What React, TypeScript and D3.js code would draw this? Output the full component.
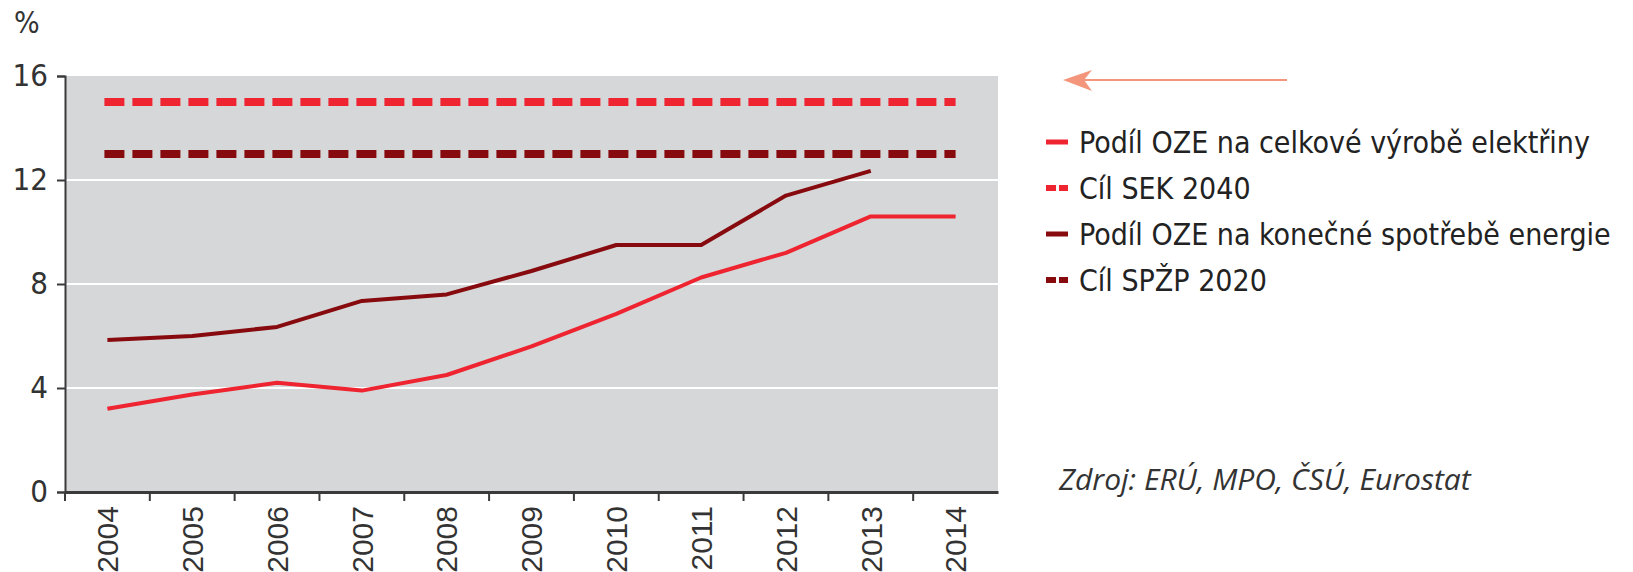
import React, { useRef, useEffect } from 'react';
import * as d3 from 'd3';

const YEARS = ['2004', '2005', '2006', '2007', '2008', '2009', '2010', '2011', '2012', '2013', '2014'];
// Podíl OZE na celkové výrobě elektřiny
const ELECTRICITY = [3.2, 3.75, 4.2, 3.9, 4.5, 5.6, 6.85, 8.25, 9.2, 10.6, 10.6];
// Podíl OZE na konečné spotřebě energie (2014 missing)
const FINAL_USE = [5.85, 6.0, 6.35, 7.35, 7.6, 8.5, 9.5, 9.5, 11.4, 12.35, null];
const TARGET_SEK = 15;
const TARGET_SPZP = 13;
const Y_TICKS = [0, 4, 8, 12, 16];
const LEGEND = [
  { label: 'Podíl OZE na celkové výrobě elektřiny', color: '#ee2430', dashed: false },
  { label: 'Cíl SEK 2040', color: '#ee2430', dashed: true },
  { label: 'Podíl OZE na konečné spotřebě energie', color: '#870a0e', dashed: false },
  { label: 'Cíl SPŽP 2020', color: '#870a0e', dashed: true },
];
const SOURCE = 'Zdroj: ERÚ, MPO, ČSÚ, Eurostat';

const W = 1633;
const H = 572;
const NARROW = "'Liberation Sans Narrow', 'DejaVu Sans Condensed', sans-serif";

function App() {
  const svgRef = useRef<SVGSVGElement>(null);

  useEffect(() => {
    document.body.style.margin = '0';
    const svg = d3.select(svgRef.current);
    svg.selectAll('*').remove();

    const left = 65, right = 998, top = 76, bottom = 492;

    const x = d3.scaleBand().domain(YEARS).range([left, right]);
    const y = d3.scaleLinear().domain([0, 16]).range([bottom, top]);
    const cx = (d: string) => (x(d) as number) + x.bandwidth() / 2;

    // plot background
    svg.append('rect')
      .attr('x', left).attr('y', top)
      .attr('width', right - left).attr('height', bottom - top)
      .attr('fill', '#d6d7d9');

    // gridlines
    svg.append('g').selectAll('line')
      .data(Y_TICKS.filter(t => t > 0 && t < 16))
      .enter().append('line')
      .attr('x1', left).attr('x2', right)
      .attr('y1', d => y(d)).attr('y2', d => y(d))
      .attr('stroke', '#ffffff').attr('stroke-width', 2);

    // y axis
    const yAxis = svg.append('g')
      .attr('transform', `translate(${left},0)`)
      .call(d3.axisLeft(y).tickValues(Y_TICKS).tickSize(8).tickPadding(9).tickFormat(d3.format('d')));
    yAxis.select('.domain').attr('stroke', '#3a3a3a').attr('stroke-width', 2);
    yAxis.selectAll('.tick line').attr('stroke', '#3a3a3a').attr('stroke-width', 2);
    yAxis.selectAll('.tick text')
      .attr('font-family', NARROW).attr('font-size', 31).attr('fill', '#333');

    // x axis
    const xAxis = svg.append('g')
      .attr('transform', `translate(0,${bottom})`)
      .call(d3.axisBottom(x).tickSize(0).tickFormat(() => ''));
    xAxis.select('.domain').attr('stroke', '#3a3a3a').attr('stroke-width', 3);
    xAxis.selectAll('.tick text').remove();
    xAxis.selectAll('.tick line').remove();

    // ticks at band boundaries
    svg.append('g').selectAll('line')
      .data(YEARS)
      .enter().append('line')
      .attr('x1', d => x(d) as number).attr('x2', d => x(d) as number)
      .attr('y1', bottom).attr('y2', bottom + 9)
      .attr('stroke', '#3a3a3a').attr('stroke-width', 2);

    // x labels, rotated
    svg.append('g').selectAll('text')
      .data(YEARS)
      .enter().append('text')
      .attr('transform', d => `translate(${cx(d)},${506}) rotate(-90)`)
      .attr('text-anchor', 'end')
      .attr('dy', '0.36em')
      .attr('font-family', "'Liberation Sans', Arial, sans-serif")
      .attr('font-size', 30)
      .attr('fill', '#333')
      .text(d => d);

    // target lines
    const targets = [
      { value: TARGET_SEK, color: '#ee2430' },
      { value: TARGET_SPZP, color: '#870a0e' },
    ];
    svg.append('g').selectAll('line')
      .data(targets)
      .enter().append('line')
      .attr('x1', cx(YEARS[0]) - 3).attr('x2', cx(YEARS[YEARS.length - 1]))
      .attr('y1', d => y(d.value)).attr('y2', d => y(d.value))
      .attr('stroke', d => d.color)
      .attr('stroke-width', 8)
      .attr('stroke-dasharray', '20 8');

    // data lines
    const line = d3.line<number | null>()
      .defined(d => d !== null)
      .x((d, i) => cx(YEARS[i]))
      .y(d => y(d as number));

    svg.append('path')
      .datum(FINAL_USE)
      .attr('d', line)
      .attr('fill', 'none')
      .attr('stroke', '#870a0e')
      .attr('stroke-width', 4)
      .attr('stroke-linejoin', 'round');

    svg.append('path')
      .datum(ELECTRICITY)
      .attr('d', line)
      .attr('fill', 'none')
      .attr('stroke', '#ee2430')
      .attr('stroke-width', 4)
      .attr('stroke-linejoin', 'round');

    // % label
    svg.append('text')
      .attr('x', 14).attr('y', 33)
      .attr('font-family', NARROW).attr('font-size', 30).attr('fill', '#333')
      .text('%');

    // arrow
    const arrow = svg.append('g');
    arrow.append('line')
      .attr('x1', 1075).attr('x2', 1287)
      .attr('y1', 80).attr('y2', 80)
      .attr('stroke', '#f4967c').attr('stroke-width', 2);
    arrow.append('path')
      .attr('d', 'M1063,80 L1092,70 L1084,80 L1092,91 Z')
      .attr('fill', '#f4967c');

    // legend
    const legend = svg.append('g').attr('transform', 'translate(1046,142)');
    const items = legend.selectAll('g')
      .data(LEGEND)
      .enter().append('g')
      .attr('transform', (d, i) => `translate(0,${i * 46})`);

    items.append('line')
      .attr('x1', 0).attr('x2', 22)
      .attr('y1', 0).attr('y2', 0)
      .attr('stroke', d => d.color)
      .attr('stroke-width', d => (d.dashed ? 6 : 5))
      .attr('stroke-dasharray', d => (d.dashed ? '10 3' : null));

    items.append('text')
      .attr('x', 33).attr('y', 0)
      .attr('dy', '0.35em')
      .attr('font-family', NARROW)
      .attr('font-size', 30)
      .attr('fill', '#222')
      .text(d => d.label);

    // source
    svg.append('text')
      .attr('x', 1059).attr('y', 490)
      .attr('font-family', "'Open Sans', 'Noto Sans', sans-serif")
      .attr('font-style', 'italic')
      .attr('font-size', 30)
      .attr('fill', '#333')
      .text(SOURCE);
  }, []);

  return <svg ref={svgRef} width={W} height={H} style={{ display: 'block', background: '#fff' }}></svg>;
}

export default App;
